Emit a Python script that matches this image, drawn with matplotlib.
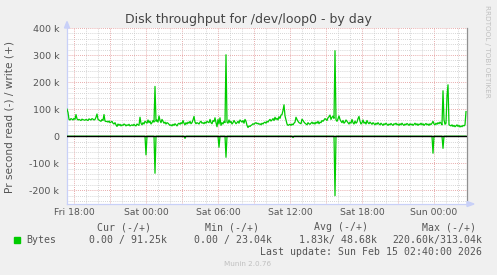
import numpy as np
import pandas as pd
import matplotlib
matplotlib.use("Agg")
import matplotlib.pyplot as plt
import matplotlib.dates as mdates
from matplotlib.ticker import MultipleLocator, FuncFormatter

# ---------------- data ----------------
start_time = "2026-02-13 17:25"
step = "5min"

# write (+) bytes per second, in k, one value per 5 minutes
write_k = [
    100, 88, 62, 60, 65, 63, 60,
    66, 62, 80, 64, 60, 62, 60, 58, 63, 61, 60, 59,
    62, 60, 58, 64, 62, 60, 65, 63, 60, 62, 70, 82,
    62, 60, 57, 55, 62, 58, 80, 56, 54, 55, 52, 56,
    50, 52, 55, 48, 45, 50, 42, 36, 45, 40, 44, 38,
    42, 40, 45, 43, 38, 42, 40, 44, 38, 40, 42, 39,
    44, 40, 38, 45, 42, 40, 70, 48, 42, 50, 45, 55,
    52, 48, 60, 50, 56, 45, 50, 58, 52, 184, 55, 60,
    52, 75, 58, 50, 62, 55, 48, 52, 45, 50, 48, 44,
    40, 42, 38, 44, 40, 46, 42, 38, 45, 48, 44, 50,
    46, 58, 48, 42, 50, 45, 52, 48, 55, 46, 50, 60,
    73, 52, 46, 50, 48, 45, 52, 55, 48, 50, 46, 52,
    48, 55, 52, 50, 62, 50, 46, 58, 54, 68, 50, 35,
    62, 45, 68, 40, 50, 45, 55, 50, 301, 52, 48, 60,
    50, 55, 45, 50, 58, 52, 46, 50, 55, 48, 60, 56,
    52, 58, 48, 62, 55, 40, 32, 38, 36, 40, 42, 46,
    44, 48, 50, 46, 48, 44, 46, 42, 48, 45, 50, 52,
    48, 55, 52, 58, 62, 56, 60, 65, 58, 70, 62, 66,
    60, 72, 66, 78, 80, 95, 116, 75, 60, 45, 40, 42,
    44, 40, 45, 42, 48, 52, 70, 62, 55, 50, 48, 46,
    63, 58, 52, 48, 45, 42, 50, 46, 44, 48, 52, 46,
    50, 45, 52, 48, 55, 46, 52, 50, 58, 55, 60, 65,
    62, 58, 68, 72, 78, 62, 70, 74, 66, 316, 60, 55,
    64, 75, 62, 55, 50, 58, 48, 52, 60, 55, 50, 45,
    52, 48, 62, 50, 45, 56, 48, 52, 65, 73, 55, 45,
    50, 60, 48, 52, 45, 58, 50, 46, 52, 48, 44, 50,
    46, 42, 48, 44, 50, 45, 42, 48, 44, 40, 46, 43,
    48, 44, 40, 45, 42, 47, 43, 40, 46, 44, 48, 42,
    45, 40, 46, 42, 48, 43, 40, 45, 42, 47, 44, 40,
    46, 42, 45, 40, 44, 48, 42, 46, 40, 45, 43, 48,
    42, 46, 40, 44, 47, 42, 45, 40, 46, 43, 48, 55,
    45, 42, 48, 44, 50, 46, 52, 48, 42, 168, 60, 44,
    48, 150, 190, 42, 40, 38, 42, 36, 40, 35, 38, 42,
    36, 40, 34, 38, 35, 40, 38, 42, 91,
]

# read (-) spikes: sample index -> value in k (all other samples are 0)
read_idx = [79, 88, 118, 152, 159, 226, 268, 366, 376]
read_k = [69, 137, 8, 41, 78, 5, 220, 63, 45]

title = "Disk throughput for /dev/loop0 - by day"
ylabel = "Pr second read (-) / write (+)"
legend_name = "Bytes"
stat_headers = ["Cur (-/+)", "Min (-/+)", "Avg (-/+)", "Max (-/+)"]
stat_values = ["0.00 / 91.25k", "0.00 / 23.04k", "1.83k/ 48.68k", "220.60k/313.04k"]
last_update = "Last update: Sun Feb 15 02:40:00 2026"
footer = "Munin 2.0.76"
side_text = "RRDTOOL / TOBI OETIKER"

# ---------------- build series ----------------
n = len(write_k)
times = pd.date_range(start_time, periods=n, freq=step)
write = np.array(write_k, dtype=float) * 1000
read = np.zeros(n)
read[read_idx] = np.array(read_k, dtype=float) * 1000

W, H = 497, 275
fig = plt.figure(figsize=(W / 100, H / 100), dpi=100, facecolor="#F0F0F0")

def fx(px):
    return px / W

def fy(py):
    return 1 - py / H

ax_l, ax_r, ax_t, ax_b = 67, 467, 28, 204
ax = fig.add_axes([fx(ax_l), fy(ax_b), (ax_r - ax_l) / W, (ax_b - ax_t) / H])
ax.set_facecolor("white")

green = "#00CC00"
ax.plot(times, write, color=green, lw=0.9, zorder=4)
ax.plot(times, -read, color=green, lw=0.9, zorder=4)
ax.axhline(0, color="black", lw=1.0, zorder=5)

t_end = times[0] + pd.Timedelta(minutes=5 * 400)
ax.set_xlim(times[0], t_end)
ax.set_ylim(-250.7e3, 400e3)

# grid
grid_minor = dict(color="#C8C8C8", lw=0.6, linestyle=(0, (1, 1.5)))
grid_major = dict(color="#E09090", lw=0.6, linestyle=(0, (1, 1.5)))
ax.yaxis.set_major_locator(MultipleLocator(100e3))
ax.yaxis.set_minor_locator(MultipleLocator(20e3))
ax.xaxis.set_major_locator(mdates.HourLocator(byhour=range(0, 24, 3)))
ax.xaxis.set_minor_locator(mdates.HourLocator())
ax.grid(which="minor", **grid_minor, zorder=1)
ax.grid(which="major", **grid_major, zorder=2)
ax.set_axisbelow(True)

def yfmt(v, pos):
    k = int(round(v / 1000))
    return "0" if k == 0 else f"{k} k"

def xfmt(v, pos):
    d = mdates.num2date(v)
    if d.hour % 6 == 0:
        return d.strftime("%a %H:%M")
    return ""

ax.yaxis.set_major_formatter(FuncFormatter(yfmt))
ax.xaxis.set_major_formatter(FuncFormatter(xfmt))
ax.tick_params(which="both", length=0)
ax.tick_params(axis="y", labelsize=6.8, labelcolor="#555555", pad=5.5)
ax.tick_params(axis="x", labelsize=6.7, labelcolor="#555555", pad=3.2)

ax.spines["top"].set_visible(False)
ax.spines["left"].set_color("#C8D0F8")
ax.spines["bottom"].set_color("#C8D0F8")
ax.spines["right"].set_color("#909090")
for s in ["left", "bottom", "right"]:
    ax.spines[s].set_linewidth(0.9)

# axis arrows
fig.patches.append(plt.Polygon(
    [[fx(64.5), fy(28)], [fx(69.5), fy(28)], [fx(67), fy(21.5)]],
    closed=True, transform=fig.transFigure, color="#C8D0F8", zorder=6))
fig.patches.append(plt.Polygon(
    [[fx(467), fy(201.5)], [fx(467), fy(206.5)], [fx(474), fy(204)]],
    closed=True, transform=fig.transFigure, color="#C8D0F8", zorder=6))

# texts
fig.text(fx(248), fy(20), title, ha="center", va="center", fontsize=9.0, color="#444444")
fig.text(fx(10), fy(117), ylabel, ha="center", va="center", rotation=90,
         fontsize=7.6, color="#555555")
fig.text(fx(487), fy(5), side_text, ha="center", va="top", rotation=270,
         fontsize=5.2, color="#C0C0C0")

mono = "DejaVu Sans Mono"
header_right = [151, 259.3, 367.7, 476]
value_right = [166.7, 272.3, 377.3, 482.3]
for hdr, xr in zip(stat_headers, header_right):
    fig.text(fx(xr), fy(227.3), hdr, ha="right", va="center", family=mono,
             fontsize=7.1, color="#555555")
for val, xr in zip(stat_values, value_right):
    fig.text(fx(xr), fy(240), val, ha="right", va="center", family=mono,
             fontsize=7.1, color="#555555")
fig.patches.append(plt.Rectangle((fx(14), fy(243)), 6 / W, 6 / H,
                                 transform=fig.transFigure, color=green))
fig.text(fx(26.3), fy(240), legend_name, ha="left", va="center", family=mono,
         fontsize=7.1, color="#555555")
fig.text(fx(482.3), fy(251.7), last_update, ha="right", va="center", family=mono,
         fontsize=7.1, color="#555555")
fig.text(fx(248), fy(264), footer, ha="center", va="center", fontsize=5.2,
         color="#C0C0C0")

fig.savefig("out.png", dpi=100, facecolor=fig.get_facecolor())
